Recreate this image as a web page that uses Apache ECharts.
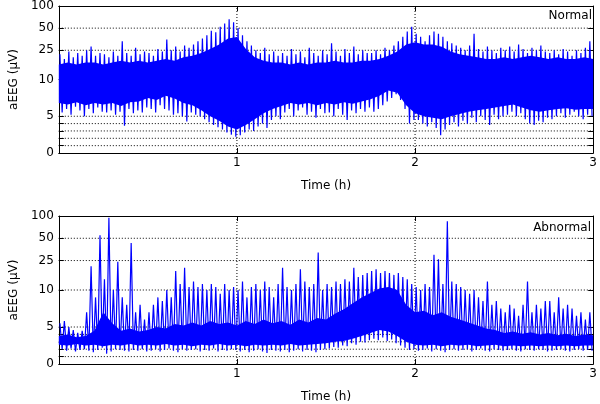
<!DOCTYPE html>
<html><head><meta charset="utf-8">
<script src="https://cdn.jsdelivr.net/npm/echarts@6/dist/echarts.min.js"></script>
<style>html,body{margin:0;padding:0;background:#fff}#c{width:600px;height:404px}</style>
</head><body><div id="c"></div>
<script>
// ---------- data (amplitude in µV, time in hours) ----------
const SAMPLE_STEP = 0.025;   // spacing of envelope samples (h)
const CORE_STEP = 0.05;      // spacing of solid-core samples (h)
const panelTitles = ['Normal', 'Abnormal'];
const xTickLabels = ['1', '2', '3'];
const yTickValues = [0, 5, 10, 25, 50, 100];
const yTickLabels = ['0', '5', '10', '25', '50', '100'];
const yMinorTicks = [0, 1, 2, 3, 4, 5, 10, 25, 50, 100];
const yGridValues = [1, 2, 3, 4, 5, 10, 25, 50];
const xGridValues = [1, 2];

// Normal trace: upper / lower peak envelope every 0.025 h
const normalHi = [
  22, 19, 24, 20, 23, 21, 25, 28, 21, 23,
  22, 20, 24, 21, 33, 23, 21, 27, 22, 24,
  23, 21, 26, 24, 35, 25, 28, 24, 29, 27,
  30, 33, 36, 40, 46, 44, 52, 58, 66, 60,
  50, 40, 33, 29, 25, 23, 27, 22, 24, 21,
  23, 21, 26, 22, 24, 20, 27, 23, 21, 25,
  22, 31, 24, 21, 26, 23, 28, 22, 25, 23,
  23, 25, 22, 27, 25, 29, 33, 38, 45, 52,
  42, 38, 33, 40, 45, 42, 38, 33, 31, 29,
  27, 25, 29, 42, 26, 24, 28, 25, 23, 27,
  25, 28, 24, 30, 26, 23, 27, 25, 29, 24,
  23, 25, 22, 26, 24, 21, 25, 23, 27, 33
];
const normalLo = [
  5.5, 6, 5.2, 6.3, 5.8, 5, 6, 5.4, 6.2, 5.6,
  5.5, 5.8, 5.2, 5.6, 3.7, 6, 5.4, 5.8, 5.5, 6.2,
  6, 5.5, 6.5, 6, 5.8, 5.2, 5.4, 5, 4.3, 5.5,
  5.2, 5, 4.6, 4.2, 3.8, 3.5, 3.2, 2.8, 2.5, 2.2,
  2.4, 2.8, 3.2, 3, 3.6, 4, 3.4, 4.5, 5, 4.6,
  5.5, 6, 5, 5.8, 6.2, 5.2, 5.6, 4.8, 6, 5.4,
  5.5, 5, 6, 5.2, 4.5, 5.8, 5.4, 6, 5.6, 6.2,
  5.6, 6, 6.5, 7, 7.5, 8, 7.2, 6, 4, 4.5,
  4.5, 4, 3.6, 4.2, 3.4, 2.4, 3.2, 3.8, 4.2, 3.6,
  4.4, 4, 4.8, 4.2, 5, 4.5, 3.8, 5.2, 4.6, 5,
  5.2, 5.6, 5, 5.4, 4.6, 4, 3.8, 4.4, 4.2, 4.8,
  4.6, 5, 5.4, 4.8, 5.2, 5.6, 5, 4.6, 5.2, 5
];
// Normal trace: solid core band every 0.05 h
const normalCoreHi = [
  16, 17, 16, 17, 17, 16, 17, 18, 17, 18,
  17, 18, 19, 18, 20, 21, 23, 26, 30, 36,
  38, 26, 20, 18, 17, 17, 16, 17, 16, 17,
  17, 18, 17, 17, 18, 18, 19, 21, 24, 30,
  32, 30, 30, 28, 24, 22, 21, 20, 19, 19,
  20, 19, 20, 21, 20, 19, 20, 19, 19, 20, 19
];
const normalCoreLo = [
  6.8, 6.6, 6.9, 6.5, 6.8, 6.6, 6.8, 6.4, 6.9, 7,
  7.5, 7.2, 7.8, 7.4, 6.8, 6.5, 5.8, 5, 4.4, 3.6,
  3.2, 3.8, 4.6, 5.4, 6, 6.4, 6.8, 6.6, 6.8, 6.5,
  6.8, 6.6, 6.9, 6.7, 7, 7.3, 7.8, 8.5, 8.2, 6.5,
  5.4, 5, 4.8, 4.6, 5, 5.3, 5.6, 5.8, 6, 6.2,
  6.4, 6.6, 6.2, 5.8, 5.6, 5.8, 6, 6.1, 5.9, 6, 6
];

// Abnormal trace: upper / lower peak envelope every 0.025 h
const abnormalHi = [
  5.5, 5.8, 5, 4.6, 4.2, 4.5, 7, 21, 9, 55,
  14, 95, 10, 24, 9, 8, 43, 7, 8, 6,
  7, 8, 9, 8.5, 10, 9, 18, 12, 20, 11,
  13, 11, 12, 10, 12, 11, 9.5, 12, 10, 11,
  10, 13, 9, 11, 12, 10, 13, 11, 9, 12,
  20, 11, 10, 12, 19, 13, 11, 12, 32, 10,
  12, 11, 13, 12, 14, 13, 20, 15, 16, 17,
  18, 19, 17, 18, 17, 16, 17, 15, 14, 12,
  11, 10, 12, 11, 30, 26, 12, 85, 13, 12,
  11, 10, 9.5, 10, 9, 8.5, 13, 8, 8.5, 7.5,
  7, 8, 7.5, 6.5, 8, 13, 7, 8, 7.5, 8.5,
  8.5, 7, 9, 7.5, 8, 7.5, 6.5, 7, 6, 7
];
const abnormalLo = [
  2, 1.8, 2.1, 1.7, 1.9, 2, 1.8, 1.6, 1.9, 2.2,
  1.4, 1.7, 2, 1.9, 1.8, 1.7, 1.9, 1.8, 2, 1.7,
  1.8, 2, 1.7, 1.9, 2.1, 1.8, 1.6, 2, 1.8, 1.9,
  2, 1.7, 1.9, 1.8, 2.1, 1.7, 1.9, 1.8, 2, 1.9,
  1.7, 1.9, 1.6, 1.8, 2, 1.7, 1.5, 1.9, 1.8, 1.7,
  1.9, 1.6, 1.8, 2, 1.7, 1.9, 1.8, 1.6, 1.9, 2,
  2.1, 2.3, 2.2, 2.5, 2.4, 2.8, 2.6, 3, 2.9, 3.2,
  3.4, 3.2, 3.6, 3.1, 3.3, 2.8, 2.5, 2.2, 1.9, 2,
  1.8, 1.9, 2.1, 1.7, 2, 1.8, 1.6, 1.9, 2, 1.8,
  1.9, 2, 1.7, 1.9, 2.1, 1.8, 1.7, 2, 1.9, 1.8,
  1.9, 2, 1.8, 1.7, 2, 1.9, 1.8, 2, 1.9, 1.7,
  1.8, 1.9, 2, 1.8, 1.7, 1.9, 2, 1.8, 1.9, 1.8
];
// Abnormal trace: solid core band every 0.05 h
const abnormalCoreHi = [
  3.8, 4, 3.6, 3.8, 4.5, 7, 5.5, 4.5, 4.8, 4.4,
  4.6, 5, 4.8, 5.4, 5.2, 5.6, 5.2, 5.8, 5.4, 5.6,
  5.2, 5.8, 5.4, 6, 5.5, 5.8, 5.3, 6, 5.6, 6.2,
  6, 6.8, 7.4, 8.2, 9, 9.6, 10.5, 11, 10, 8,
  7, 7.2, 6.6, 7, 6.4, 6, 5.6, 5.2, 4.8, 4.6,
  4.2, 4.4, 4.1, 4.3, 4, 4.2, 3.9, 4.1, 3.8, 4, 3.9
];
const abnormalCoreLo = [
  2.6, 2.5, 2.7, 2.5, 2.6, 2.4, 2.6, 2.5, 2.7, 2.5,
  2.6, 2.5, 2.7, 2.5, 2.6, 2.4, 2.6, 2.5, 2.7, 2.5,
  2.6, 2.4, 2.6, 2.5, 2.6, 2.5, 2.7, 2.5, 2.6, 2.7,
  2.8, 3, 3.1, 3.4, 3.8, 4.2, 4.6, 4.4, 3.8, 3,
  2.6, 2.5, 2.6, 2.4, 2.6, 2.5, 2.6, 2.4, 2.5, 2.6,
  2.4, 2.5, 2.4, 2.5, 2.4, 2.5, 2.4, 2.5, 2.4, 2.5, 2.5
];

// ---------- aEEG semi-log scale: linear 0-10, log 10-100 ----------
function aeeg(v) { return v <= 10 ? v / 10 : 1 + Math.log10(v / 10); }

const FONT = 'DejaVu Sans';
const BLUE = '#0000ff';
const grids = [
  { left: 50, right: 2, top: 6, height: 147 },
  { left: 50, right: 2, top: 216, height: 148 }
];
const panels = [
  { hi: normalHi, lo: normalLo, coreHi: normalCoreHi, coreLo: normalCoreLo },
  { hi: abnormalHi, lo: abnormalLo, coreHi: abnormalCoreHi, coreLo: abnormalCoreLo }
];
const labelTicks = yTickValues.map(aeeg);

const xAxes = [], yAxes = [], series = [];
panels.forEach((p, k) => {
  const tickStyle = { inside: true, length: 5, lineStyle: { color: '#000', width: 1 } };
  const lineStyle = { show: true, onZero: false, lineStyle: { color: '#000', width: 1 } };
  xAxes.push({
    gridIndex: k, type: 'value', min: 0, max: 3, interval: 1, position: 'bottom',
    axisLine: lineStyle, axisTick: tickStyle, splitLine: { show: false },
    axisLabel: { color: '#000', fontFamily: FONT, fontSize: 12, margin: 4,
      formatter: v => (v >= 1 ? xTickLabels[Math.round(v) - 1] : '') },
    name: 'Time (h)', nameLocation: 'middle', nameGap: 27,
    nameTextStyle: { color: '#000', fontFamily: FONT, fontSize: 12 }
  });
  xAxes.push({
    gridIndex: k, type: 'value', min: 0, max: 3, interval: 1, position: 'top',
    axisLine: lineStyle, axisTick: tickStyle, axisLabel: { show: false }, splitLine: { show: false }
  });
  yAxes.push({
    gridIndex: k, type: 'value', min: 0, max: 2, position: 'left',
    axisLine: lineStyle,
    axisTick: Object.assign({ customValues: yMinorTicks.map(aeeg) }, tickStyle),
    axisLabel: { color: '#000', fontFamily: FONT, fontSize: 12, margin: 5,
      customValues: labelTicks,
      formatter: v => { const i = labelTicks.findIndex(t => Math.abs(t - v) < 1e-6); return i >= 0 ? yTickLabels[i] : ''; } },
    splitLine: { show: false },
    name: 'aEEG (μV)', nameLocation: 'middle', nameGap: 38, nameRotate: 90,
    nameTextStyle: { color: '#000', fontFamily: FONT, fontSize: 12 }
  });
  yAxes.push({
    gridIndex: k, type: 'value', min: 0, max: 2, position: 'right',
    axisLine: lineStyle,
    axisTick: Object.assign({ customValues: yMinorTicks.map(aeeg) }, tickStyle),
    axisLabel: { show: false }, splitLine: { show: false }
  });
  const xi = k * 2, yi = k * 2;
  const dotted = { color: '#000', width: 1, type: [1, 2] };
  yGridValues.forEach(g => series.push({
    type: 'line', xAxisIndex: xi, yAxisIndex: yi, z: 1, silent: true, symbol: 'none', animation: false,
    lineStyle: dotted, data: [[0, aeeg(g)], [3, aeeg(g)]]
  }));
  xGridValues.forEach(g => series.push({
    type: 'line', xAxisIndex: xi, yAxisIndex: yi, z: 1, silent: true, symbol: 'none', animation: false,
    lineStyle: dotted, data: [[g, 0], [g, 2]]
  }));
  // solid core band
  series.push({
    type: 'custom', xAxisIndex: xi, yAxisIndex: yi, z: 2, silent: true, animation: false,
    data: [[0, 0]],
    renderItem: (params, api) => {
      const pts = [];
      p.coreHi.forEach((v, j) => pts.push(api.coord([j * CORE_STEP, aeeg(v)])));
      for (let j = p.coreLo.length - 1; j >= 0; j--) pts.push(api.coord([j * CORE_STEP, aeeg(p.coreLo[j])]));
      return { type: 'polygon', shape: { points: pts }, style: { fill: BLUE } };
    }
  });
  // peak envelope trace
  const trace = [];
  p.hi.forEach((h, i) => {
    const t = (i + 0.5) * SAMPLE_STEP;
    trace.push([t - SAMPLE_STEP * 0.25, aeeg(h)]);
    trace.push([t + SAMPLE_STEP * 0.25, aeeg(p.lo[i])]);
  });
  series.push({
    type: 'line', xAxisIndex: xi, yAxisIndex: yi, z: 3, silent: true, symbol: 'none', showSymbol: false,
    animation: false, sampling: null, lineStyle: { color: BLUE, width: 1.2 }, data: trace
  });
});

const chart = echarts.init(document.getElementById('c'), null, { renderer: 'canvas' });
chart.setOption({
  animation: false,
  backgroundColor: '#fff',
  grid: grids,
  xAxis: xAxes,
  yAxis: yAxes,
  series: series,
  graphic: [
    { type: 'text', right: 8, top: 10, style: { text: panelTitles[0], fill: '#000', font: '12px "DejaVu Sans"' } },
    { type: 'text', right: 9, top: 222, style: { text: panelTitles[1], fill: '#000', font: '12px "DejaVu Sans"' } }
  ]
});
</script></body></html>
